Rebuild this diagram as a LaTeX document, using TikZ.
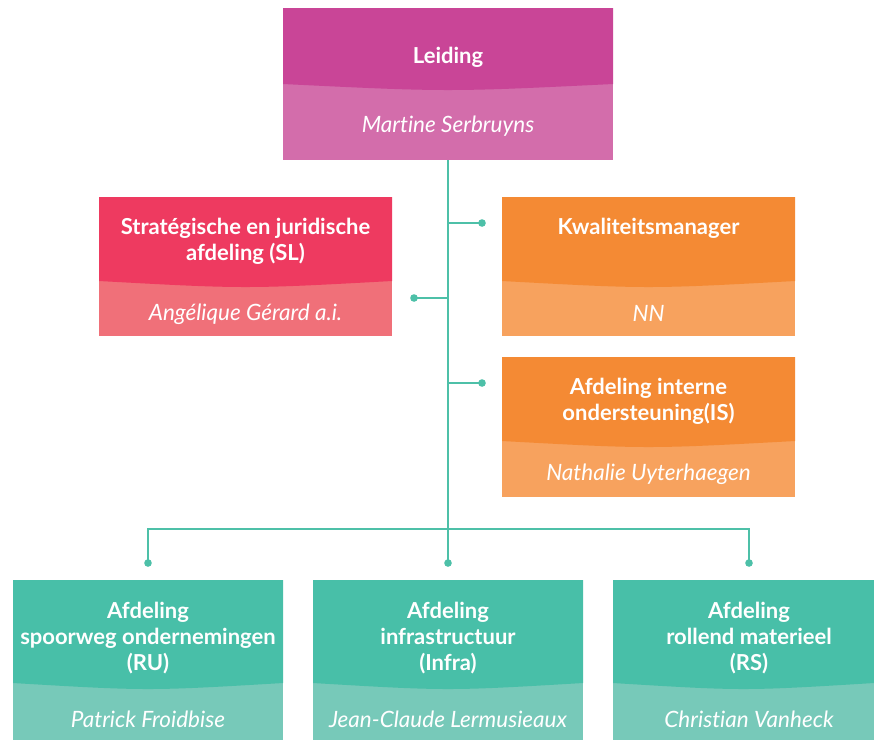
\documentclass[tikz,border=0pt]{standalone}
\usepackage{fontspec}
\setmainfont[Ligatures=NoCommon]{Lato}
\definecolor{leadH}{HTML}{C94597}
\definecolor{leadB}{HTML}{D36DAB}
\definecolor{redH}{HTML}{EE3A60}
\definecolor{redB}{HTML}{F07079}
\definecolor{orH}{HTML}{F48A34}
\definecolor{orB}{HTML}{F7A25E}
\definecolor{tealH}{HTML}{48BFA8}
\definecolor{tealB}{HTML}{77C9B9}
\definecolor{linecol}{HTML}{4DC0A8}
\newcommand\orgpanel[7]{% name, x1, y1, x2, y2, yb, colour prefix
  \fill[#7B] (#2,#3) rectangle (#4,#5);
  \fill[#7H] (#2,#3) -- (#4,#3) -- (#4,#6) .. controls ({(#2+#4)/2},{#6+8}) .. (#2,#6) -- cycle;
  \node[boxanchor, minimum width={(#4-#2)*1pt}, minimum height={(#5-#3)*1pt}] (#1) at ({(#2+#4)/2},{(#3+#5)/2}) {};
}
\tikzset{
  boxanchor/.style={inner sep=0pt, outer sep=0pt, draw=none},
  titletext/.style={text=white, font=\fontsize{22}{26}\selectfont\bfseries, align=center, inner sep=0pt},
  nametext/.style={text=white, font=\fontsize{22.5}{26}\selectfont\itshape, align=center, inner sep=0pt},
  conn/.style={draw=linecol, line width=2pt},
  dot/.style={fill=linecol}
}
\begin{document}
\begin{tikzpicture}[x=1pt,y=-1pt]
\useasboundingbox (0,0) rectangle (874,740);
% boxes
\orgpanel{lead}{283}{8}{613}{160}{84}{lead}
\orgpanel{sl}{99}{197}{392}{336}{281}{red}
\orgpanel{qm}{502}{197}{795}{336}{281}{or}
\orgpanel{is}{502}{357}{795}{497}{441}{or}
\orgpanel{ru}{13}{580}{283}{740}{683}{teal}
\orgpanel{infra}{313}{580}{583}{740}{683}{teal}
\orgpanel{rs}{613}{580}{874}{740}{683}{teal}
% texts
\node[titletext] (lead-t) at (448,57) {Leiding};
\node[nametext] (lead-n) at (448,126) {Martine Serbruyns};
\node[titletext] (sl-t) at (245.5,241) {Strat\'egische en juridische\\afdeling (SL)};
\node[nametext] (sl-n) at (245.5,314) {Ang\'elique G\'erard a.i.};
\node[titletext] (qm-t) at (648.5,228) {Kwaliteitsmanager};
\node[nametext] (qm-n) at (648.5,313) {NN};
\node[titletext] (is-t) at (648.5,401) {Afdeling interne\\ondersteuning(IS)};
\node[nametext] (is-n) at (648.5,474) {Nathalie Uyterhaegen};
\node[titletext] (ru-t) at (148,638) {Afdeling\\spoorweg ondernemingen\\(RU)};
\node[nametext] (ru-n) at (148,719) {Patrick Froidbise};
\node[titletext] (infra-t) at (448,638) {Afdeling\\infrastructuur\\(Infra)};
\node[nametext] (infra-n) at (448,719) {Jean-Claude Lermusieaux};
\node[titletext] (rs-t) at (749,638) {Afdeling\\rollend materieel\\(RS)};
\node[nametext] (rs-n) at (749,719) {Christian Vanheck};
% connector points
\coordinate (dQM) at (482,223);
\coordinate (dSL) at (414,298);
\coordinate (dIS) at (482,383);
\coordinate (dRU) at (148,563);
\coordinate (dInfra) at (448,563);
\coordinate (dRS) at (749,563);
\coordinate (bus) at (448,529);
% connectors
\draw[conn] (lead.south) -- (dInfra);
\draw[conn] (lead.south |- dQM) -- (dQM);
\draw[conn] (lead.south |- dSL) -- (dSL);
\draw[conn] (lead.south |- dIS) -- (dIS);
\draw[conn] (dRU) |- (bus) -| (dRS);
\foreach \p in {dQM,dSL,dIS,dRU,dInfra,dRS} \fill[dot] (\p) circle (3.8);
\end{tikzpicture}
\end{document}
